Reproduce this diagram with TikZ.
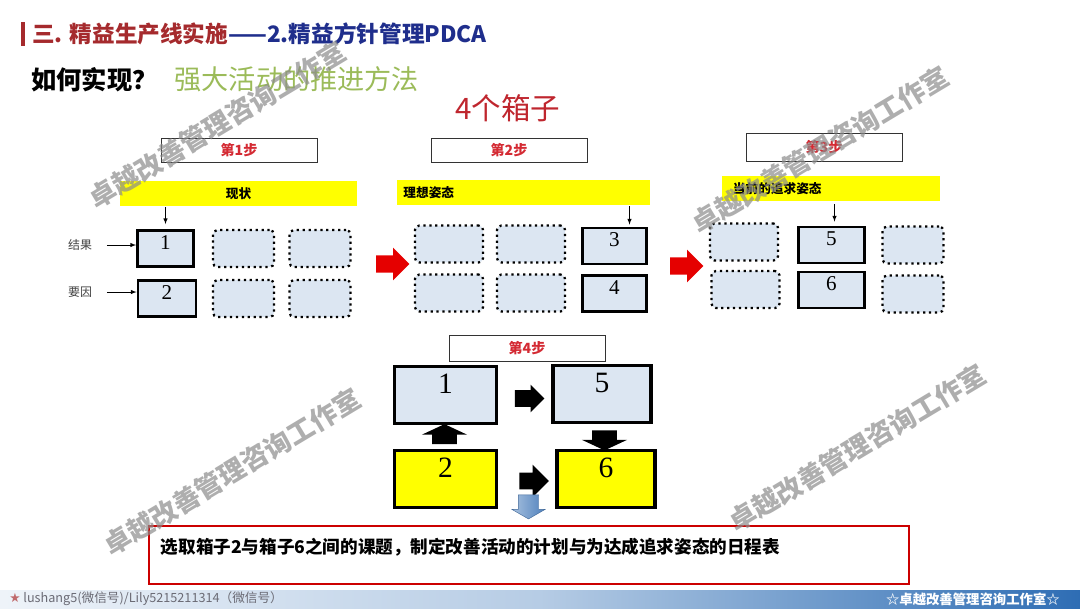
\documentclass[tikz,border=0pt]{standalone}
\usepackage{fontspec}
\setmainfont{Liberation Serif}
\newfontfamily\cjk{Noto Sans CJK SC}
\newfontfamily\symb{DejaVu Sans}
\usetikzlibrary{shapes.arrows,calc}
\definecolor{cred}{HTML}{A52A2D}
\definecolor{cnavy}{HTML}{1F2E8C}
\definecolor{cgreen}{HTML}{9BBB59}
\definecolor{cstep}{HTML}{D42A33}
\definecolor{cbox}{HTML}{DCE6F2}
\definecolor{cyel}{HTML}{FFFF00}
\definecolor{cfoot}{HTML}{2E6DB4}
\definecolor{cgrey}{HTML}{6B6B75}
\definecolor{cblue}{HTML}{4F81BD}

\begin{document}
\begin{tikzpicture}[x=0.025cm,y=-0.025cm,
  stepbox/.style={draw=black!80,fill=white,minimum width=3.9cm,minimum height=0.6cm,text=cstep,font=\cjk\fontsize{10}{10}\selectfont\bfseries},
  bar/.style={fill=cyel,minimum height=0.62cm,font=\cjk\fontsize{9}{9}\selectfont\bfseries},
  solidbox/.style={draw,line width=2pt,fill=cbox,minimum height=0.9cm,text depth=0.3cm,font=\fontsize{15}{15}\selectfont},
  dotbox/.style={draw,line width=1.6pt,dash pattern=on 1.6pt off 2.6pt,rounded corners=3pt,fill=cbox,minimum height=0.92cm},
  bigbox/.style={draw,line width=2.2pt,minimum width=2.55cm,minimum height=1.42cm,text depth=0.55cm,font=\fontsize{21}{21}\selectfont},
  sidelabel/.style={font=\cjk\fontsize{8.5}{8.5}\selectfont,text=black!75},
  redarrow/.style={single arrow,fill=red!90!black,inner xsep=0pt,inner ysep=0.21cm,minimum height=0.83cm,single arrow head extend=0.19cm},
  blkarrow/.style={single arrow,fill=black,inner xsep=0pt,inner ysep=0.2cm,minimum height=0.74cm,single arrow head extend=0.14cm},
  stubarrow/.style={single arrow,fill=black,inner xsep=0pt,inner ysep=0.3cm,minimum height=0.5cm,single arrow head extend=0.26cm,single arrow tip angle=130},
  watermark/.style={rotate=31,text=black!45,text opacity=0.7,font=\cjk\fontsize{19}{19}\selectfont\bfseries}]
  \useasboundingbox (0,0) rectangle (1080,608);

  % header
  \fill[cred] (21,22) rectangle (25,46);
  \node[anchor=west,inner sep=0pt,font=\cjk\fontsize{16.1}{16.1}\selectfont\bfseries] (title) at (32,34)
    {\textcolor{cred}{三. 精益生产线实施}\textcolor{cnavy}{——2.精益方针管理PDCA}};
  \node[anchor=west,inner sep=0pt,font=\cjk\fontsize{18}{18}\selectfont\bfseries] (howto) at (31,79)
    {如何实现？\hspace{0.42cm}\textcolor{cgreen}{\mdseries\fontsize{19.3}{19.3}\selectfont 强大活动的推进方法}};
  \node[text=cstep!90!black,font=\cjk\fontsize{21}{21}\selectfont] (boxes) at (508,108) {4个箱子};

  % step 1
  \node[stepbox] (s1) at (239,150) {第1步};
  \node[bar,minimum width=5.93cm] (bar1) at (238.5,193.5) {现状};
  \node[solidbox,minimum width=1.4cm] (b1) at (165.5,248.5) {1};
  \node[solidbox,minimum width=1.45cm] (b2) at (167,298.5) {2};
  \node[dotbox,minimum width=1.52cm] (d11) at (243.5,248.5) {};
  \node[dotbox,minimum width=1.52cm] (d12) at (243.5,298.5) {};
  \node[dotbox,minimum width=1.52cm] (d21) at (320,248.5) {};
  \node[dotbox,minimum width=1.52cm] (d22) at (320,298.5) {};
  \node[sidelabel] (jg) at (80,245) {结果};
  \node[sidelabel] (yy) at (80,292) {要因};
  \draw[-latex] (jg.east) ++(10,0) -- (b1.west |- jg.east);
  \draw[-latex] (yy.east) ++(10,0) -- (b2.west |- yy.east);
  \draw[-latex] (bar1.south -| b1.north) ++(0,1) -- ($(b1.north)+(0,-5)$);

  \node[redarrow] (ra1) at (388.5,264) {};

  % step 2
  \node[stepbox] (s2) at (509,150) {第2步};
  \node[bar,minimum width=6.33cm,text width=6.0cm,align=left] (bar2) at (523.5,192.5) {理想姿态};
  \node[dotbox,minimum width=1.7cm] (e11) at (449,244) {};
  \node[dotbox,minimum width=1.7cm] (e12) at (449,293) {};
  \node[dotbox,minimum width=1.7cm] (e21) at (531,244) {};
  \node[dotbox,minimum width=1.7cm] (e22) at (531,293) {};
  \node[solidbox,minimum width=1.6cm] (b3) at (614.5,246) {3};
  \node[solidbox,minimum width=1.6cm] (b4) at (614.5,293.5) {4};
  \draw[-latex] ($(bar2.south -| b3.north)+(15,1)$) -- ($(b3.north)+(15,-2)$);

  \node[redarrow] (ra2) at (682.5,266) {};

  % step 3
  \node[stepbox,minimum height=0.7cm] (s3) at (824,147) {第3步};
  \node[bar,minimum width=5.45cm,text width=4.9cm,align=left] (bar3) at (831,188.5) {当前的追求姿态};
  \node[dotbox,minimum width=1.7cm] (f11) at (744,242) {};
  \node[dotbox,minimum width=1.7cm] (f12) at (745.5,289.5) {};
  \node[solidbox,minimum width=1.65cm] (b5) at (831.5,245) {5};
  \node[solidbox,minimum width=1.65cm] (b6) at (831.5,290) {6};
  \node[dotbox,minimum width=1.52cm] (f21) at (913,245) {};
  \node[dotbox,minimum width=1.52cm] (f22) at (913,294) {};
  \draw[-latex] ($(bar3.south -| b5.north)+(3,3)$) -- ($(b5.north)+(3,-4)$);

  % step 4
  \node[bigbox,fill=cbox] (B1) at (445.5,395) {1};
  \node[bigbox,fill=cbox,minimum width=2.45cm] (B5) at (602,394) {5};
  \node[bigbox,fill=cyel] (B2) at (445.5,479) {2};
  \node[bigbox,fill=cyel,minimum width=2.45cm] (B6) at (606,479) {6};
  \node[stepbox,minimum height=0.65cm] (s4) at (527,348) {第4步};
  \node[blkarrow] (r1) at (525.5,398.5) {};
  \node[stubarrow,rotate=90] (up) at (444.5,437) {};
  \node[stubarrow,rotate=-90] (dn) at (604.5,437.5) {};
  \node[blkarrow,single arrow head extend=0.2cm] (r2) at (530,481) {};
  \node[single arrow,rotate=-90,inner xsep=0pt,inner ysep=0.25cm,minimum height=0.6cm,
        single arrow head extend=0.16cm,single arrow tip angle=120,left color=cblue!50,right color=cblue,draw=cblue!80!black,line width=0.3pt] (bd) at (528.5,504) {};

  % task
  \node[draw=red!80!black,line width=1.5pt,fill=white,minimum width=19cm,minimum height=1.45cm,
        text width=18.4cm,align=left,text depth=0.45cm,font=\cjk\fontsize{12.5}{12.5}\selectfont\bfseries] (task) at (529,555)
    {选取箱子2与箱子6之间的课题，制定改善活动的计划与为达成追求姿态的日程表};

  % footer
  \shade[left color=cfoot!8,right color=cfoot,middle color=cfoot!35] (0,590) rectangle (1080,608);
  \node[anchor=west,inner sep=0pt,text=cgrey,font=\cjk\fontsize{9}{9}\selectfont] (contact) at (9,599)
    {{\symb\textcolor{cred!70}{★}} lushang5(微信号)/Lily5215211314（微信号）};
  \node[anchor=east,inner sep=0pt,text=white,font=\cjk\fontsize{9.5}{9.5}\selectfont\bfseries] (brand) at (1060,599)
    {☆卓越改善管理咨询工作室☆};

  % watermarks
  \node[watermark] (wm1) at (217,125) {卓越改善管理咨询工作室};
  \node[watermark] (wm2) at (820,150) {卓越改善管理咨询工作室};
  \node[watermark] (wm3) at (232,472) {卓越改善管理咨询工作室};
  \node[watermark] (wm4) at (857,448) {卓越改善管理咨询工作室};
\end{tikzpicture}
\end{document}
